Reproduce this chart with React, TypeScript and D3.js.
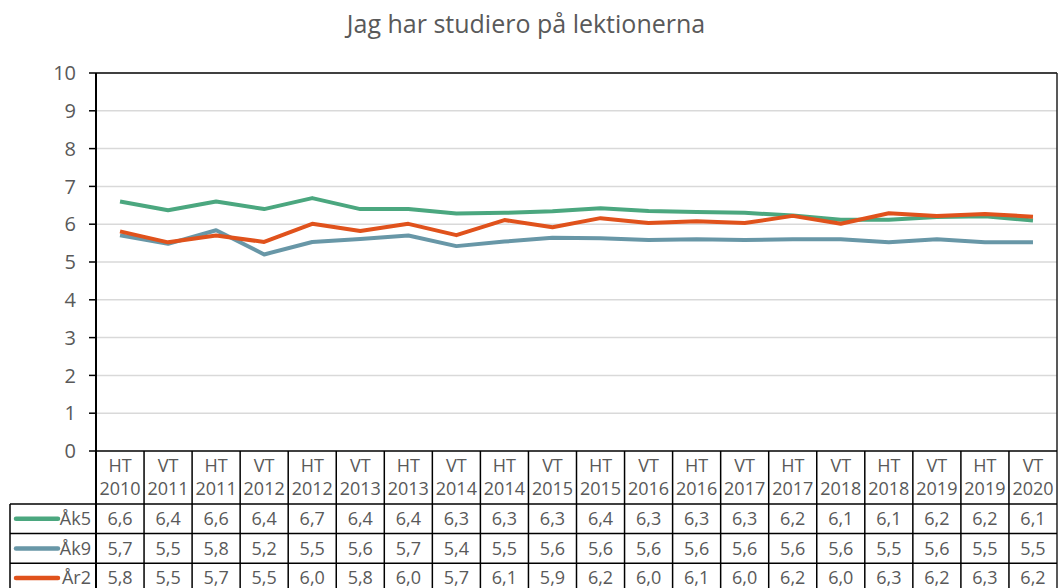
import React from "react";
import * as d3 from "d3";

const categories = [
  ["HT", "2010"], ["VT", "2011"], ["HT", "2011"], ["VT", "2012"], ["HT", "2012"],
  ["VT", "2013"], ["HT", "2013"], ["VT", "2014"], ["HT", "2014"], ["VT", "2015"],
  ["HT", "2015"], ["VT", "2016"], ["HT", "2016"], ["VT", "2017"], ["HT", "2017"],
  ["VT", "2018"], ["HT", "2018"], ["VT", "2019"], ["HT", "2019"], ["VT", "2020"],
];
// values shown in the data table (rounded)
const ak5 = [6.6, 6.4, 6.6, 6.4, 6.7, 6.4, 6.4, 6.3, 6.3, 6.3, 6.4, 6.3, 6.3, 6.3, 6.2, 6.1, 6.1, 6.2, 6.2, 6.1];
const ak9 = [5.7, 5.5, 5.8, 5.2, 5.5, 5.6, 5.7, 5.4, 5.5, 5.6, 5.6, 5.6, 5.6, 5.6, 5.6, 5.6, 5.5, 5.6, 5.5, 5.5];
const ar2 = [5.8, 5.5, 5.7, 5.5, 6.0, 5.8, 6.0, 5.7, 6.1, 5.9, 6.2, 6.0, 6.1, 6.0, 6.2, 6.0, 6.3, 6.2, 6.3, 6.2];
// unrounded values as plotted by the lines
const ak5Line = [6.6, 6.37, 6.6, 6.4, 6.69, 6.4, 6.4, 6.28, 6.3, 6.34, 6.42, 6.35, 6.32, 6.3, 6.23, 6.12, 6.12, 6.19, 6.21, 6.1];
const ak9Line = [5.71, 5.48, 5.84, 5.2, 5.53, 5.61, 5.7, 5.42, 5.54, 5.64, 5.63, 5.58, 5.6, 5.58, 5.6, 5.6, 5.52, 5.6, 5.52, 5.52];
const ar2Line = [5.81, 5.52, 5.7, 5.53, 6.01, 5.82, 6.01, 5.71, 6.11, 5.92, 6.16, 6.03, 6.08, 6.03, 6.22, 6.01, 6.29, 6.22, 6.27, 6.2];
const seriesNames = ["Åk5", "Åk9", "År2"];
const seriesColors = ["#4BA77F", "#6897A7", "#E0521C"];
const yTicks = [0, 1, 2, 3, 4, 5, 6, 7, 8, 9, 10];
const title = "Jag har studiero på lektionerna";

const W = 1059, H = 588;
const left = 96, right = 1057, top = 73, bottom = 451;
const headerBottom = 504;
const rowH = 29.6;
const tableLeft = 10;
const font = "'Open Sans', 'Noto Sans', sans-serif";
const textColor = "#595959";

export default function App() {
  const tableSeries = [ak5, ak9, ar2];
  const lineSeries = [ak5Line, ak9Line, ar2Line];
  const idx = categories.map((_, i) => String(i));
  const x = d3.scaleBand().domain(idx).range([left, right]);
  const y = d3.scaleLinear().domain([0, 10]).range([bottom, top]);
  const line = d3.line<number>().x((_, i) => (x(String(i)) as number) + x.bandwidth() / 2).y((d) => y(d));
  const fmt = (v: number) => d3.format(".1f")(v).replace(".", ",");

  return (
    <svg width={W} height={H} style={{ position: "absolute", left: 0, top: 0, background: "#fff" }} fontFamily={font}>
      <rect width={W} height={H} fill="#fff" />
      <text x={526} y={33} textAnchor="middle" fontSize={25} fill={textColor}>{title}</text>
      {yTicks.filter((t) => t > 0 && t < 10).map((t) => (
        <line key={t} x1={left} x2={right} y1={y(t)} y2={y(t)} stroke="#d9d9d9" strokeWidth={1.5} />
      ))}
      <line x1={left} x2={right} y1={y(10)} y2={y(10)} stroke="#000" strokeWidth={1.5} />
      <line x1={right} x2={right} y1={y(10)} y2={H} stroke="#222" strokeWidth={1.5} />
      {yTicks.map((t) => (
        <g key={t}>
          <line x1={89} x2={left} y1={y(t)} y2={y(t)} stroke="#000" strokeWidth={1.5} />
          <text x={76} y={y(t)} dy="0.36em" textAnchor="end" fontSize={20} fill={textColor}>{t}</text>
        </g>
      ))}
      {lineSeries.map((s, si) => (
        <path key={si} d={line(s) || ""} fill="none" stroke={seriesColors[si]} strokeWidth={4} strokeLinejoin="round" />
      ))}
      {categories.map((c, i) => {
        const cx = (x(String(i)) as number) + x.bandwidth() / 2;
        return (
          <g key={i}>
            <text x={cx} y={466} dy="0.36em" textAnchor="middle" fontSize={18} fill={textColor}>{c[0]}</text>
            <text x={cx} y={489} dy="0.36em" textAnchor="middle" fontSize={18} fill={textColor}>{c[1]}</text>
          </g>
        );
      })}
      {tableSeries.map((s, si) => {
        const ry = headerBottom + si * rowH;
        return (
          <g key={si}>
            <line x1={tableLeft + 6} x2={58} y1={ry + rowH / 2} y2={ry + rowH / 2} stroke={seriesColors[si]} strokeWidth={4.5} strokeLinecap="round" />
            <text x={91} y={ry + rowH / 2} dy="0.36em" textAnchor="end" fontSize={18} fill={textColor}>{seriesNames[si]}</text>
            {s.map((v, i) => (
              <text key={i} x={(x(String(i)) as number) + x.bandwidth() / 2} y={ry + rowH / 2} dy="0.36em" textAnchor="middle" fontSize={18} fill={textColor}>{fmt(v)}</text>
            ))}
          </g>
        );
      })}
      {idx.map((k) => (
        <line key={k} x1={x(k) as number} x2={x(k) as number} y1={bottom} y2={H} stroke="#000" strokeWidth={1.5} />
      ))}
      <line x1={left} x2={left} y1={top} y2={H} stroke="#000" strokeWidth={2} />
      <line x1={left} x2={right} y1={bottom} y2={bottom} stroke="#000" strokeWidth={1.5} />
      {[0, 1, 2, 3].map((r) => (
        <line key={r} x1={tableLeft} x2={right} y1={headerBottom + r * rowH} y2={headerBottom + r * rowH} stroke="#000" strokeWidth={1.5} />
      ))}
      <line x1={tableLeft} x2={tableLeft} y1={headerBottom} y2={H} stroke="#000" strokeWidth={1.5} />
    </svg>
  );
}
